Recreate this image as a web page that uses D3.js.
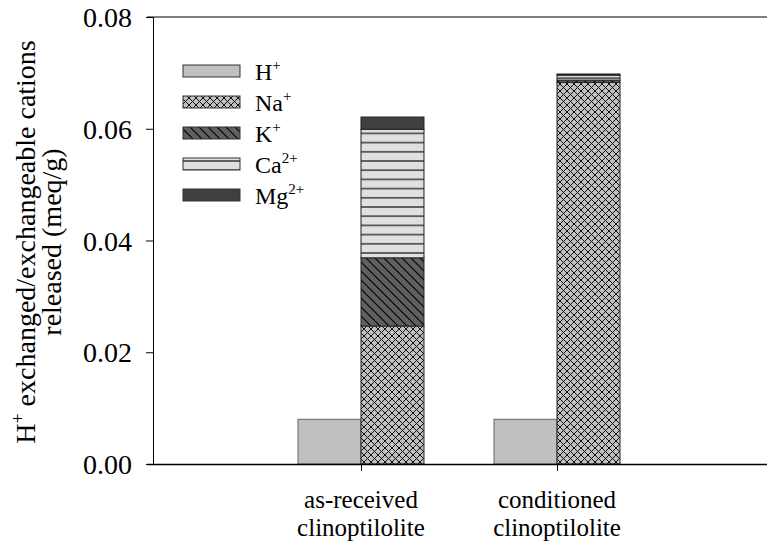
<!DOCTYPE html>
<html><head><meta charset="utf-8">
<script src="https://cdn.jsdelivr.net/npm/d3@7"></script>
<style>body{margin:0;background:#fff}svg text{font-family:"Liberation Serif","Times New Roman","DejaVu Serif",serif !important;fill:#000}</style>
</head><body><svg id="c" width="767" height="548"></svg>
<script>
const categories = ["as-received clinoptilolite", "conditioned clinoptilolite"];
const categoryLines = [["as-received","clinoptilolite"],["conditioned","clinoptilolite"]];
const hValues  = [0.008, 0.008];
const naValues = [0.0247, 0.0683];
const kValues  = [0.0122, 0.0004];
const caValues = [0.0230, 0.0009];
const mgValues = [0.0022, 0.0002];
const yTicks = [0, 0.02, 0.04, 0.06, 0.08];
const legendItems = ["H","Na","K","Ca","Mg"];
const legendSup = ["+","+","+","2+","2+"];

const FONT = '"Liberation Serif","Times New Roman","DejaVu Serif",serif';
const svg = d3.select("#c");
const m = {l:153, t:17, r:765, b:464};
const x = d3.scalePoint().domain(categories).range([m.l, m.r]).padding(1.061);
const y = d3.scaleLinear().domain([0,0.08]).range([m.b, m.t]);
const barW = 63;

const defs = svg.append("defs");
const pNa = defs.append("pattern").attr("id","pNa").attr("patternUnits","userSpaceOnUse").attr("width",7).attr("height",7);
pNa.append("rect").attr("width",7).attr("height",7).attr("fill","#c0c0c0");
pNa.append("path").attr("d","M0,0L7,7M0,7L7,0").attr("stroke","#111").attr("stroke-width",1);
const pK = defs.append("pattern").attr("id","pK").attr("patternUnits","userSpaceOnUse").attr("width",9).attr("height",9);
pK.append("rect").attr("width",9).attr("height",9).attr("fill","#606060");
pK.append("path").attr("d","M-1,-1L10,10M-1,8L1,10M8,-1L10,1").attr("stroke","#000").attr("stroke-width",1.1);
const pCa = defs.append("pattern").attr("id","pCa").attr("patternUnits","userSpaceOnUse").attr("width",10).attr("height",9.2);
pCa.append("rect").attr("width",10).attr("height",9.2).attr("fill","#e0e0e0");
pCa.append("path").attr("d","M0,4.6L10,4.6").attr("stroke","#000").attr("stroke-width",1.1);
const fills = ["#c0c0c0","url(#pNa)","url(#pK)","url(#pCa)","#404040"];

// H bars
svg.selectAll(".hb").data(categories).enter().append("rect")
  .attr("x", d => x(d) - barW)
  .attr("y", (d,i) => y(hValues[i]))
  .attr("width", barW).attr("height", (d,i) => y(0)-y(hValues[i]))
  .attr("fill","#c0c0c0").attr("stroke","#666").attr("stroke-width",1);

// stacked bars
const series = [naValues,kValues,caValues,mgValues];
categories.forEach((c,i) => {
  let base = 0;
  series.forEach((s,j) => {
    const v = s[i];
    svg.append("rect")
      .attr("x", x(c))
      .attr("y", y(base+v))
      .attr("width", barW).attr("height", y(base)-y(base+v))
      .attr("fill", fills[j+1]).attr("stroke","#222").attr("stroke-width",1);
    base += v;
  });
});

// axes
const yAxis = svg.append("g").attr("transform",`translate(${m.l},0)`)
  .call(d3.axisLeft(y).tickValues(yTicks).tickFormat(d3.format(".2f")).tickSizeOuter(0).tickSize(7).tickPadding(14));
yAxis.select(".domain").attr("stroke","#000");
yAxis.selectAll("text").style("font-size","28px").style("font-family",FONT).attr("dy","0.34em");
const xAxis = svg.append("g").attr("transform",`translate(0,${m.b})`)
  .call(d3.axisBottom(x).tickSize(7).tickSizeOuter(0).tickFormat(""));
xAxis.select(".domain").attr("d",`M${m.l-6},0.5H767`).attr("stroke","#000").attr("stroke-width",1.3);
svg.append("line").attr("x1",m.l-6).attr("x2",767).attr("y1",m.t).attr("y2",m.t).attr("stroke","#000");

categories.forEach((c,i) => {
  const t = svg.append("text").attr("text-anchor","middle").style("font-size","25px").style("font-family",FONT)
    .attr("x", x(c)).attr("y", 508);
  t.append("tspan").attr("x", x(c)).text(categoryLines[i][0]);
  t.append("tspan").attr("x", x(c)).attr("dy",28).text(categoryLines[i][1]);
});

// y label
const yl = svg.append("g").attr("transform",`translate(35,242) rotate(-90)`);
const t1 = yl.append("text").attr("text-anchor","middle").style("font-size","28px").style("font-family",FONT).attr("y",0);
t1.append("tspan").text("H");
t1.append("tspan").attr("dy",-11).style("font-size","18px").text("+");
t1.append("tspan").attr("dy",11).text(" exchanged/exchangeable cations");
yl.append("text").attr("text-anchor","middle").style("font-size","28px").style("font-family",FONT).attr("y",26).text("released (meq/g)");

// legend
const lg = svg.append("g");
legendItems.forEach((d,i) => {
  const yy = 71 + i*31;
  lg.append("rect").attr("x",183).attr("y",yy-6).attr("width",57).attr("height",12)
    .attr("fill",fills[i]).attr("stroke","#333").attr("stroke-width",1);
  const t = lg.append("text").attr("x",255).attr("y",yy+9).style("font-size","24px").style("font-family",FONT);
  t.append("tspan").text(d);
  t.append("tspan").attr("dy",-10).style("font-size","15px").text(legendSup[i]);
});
</script></body></html>
